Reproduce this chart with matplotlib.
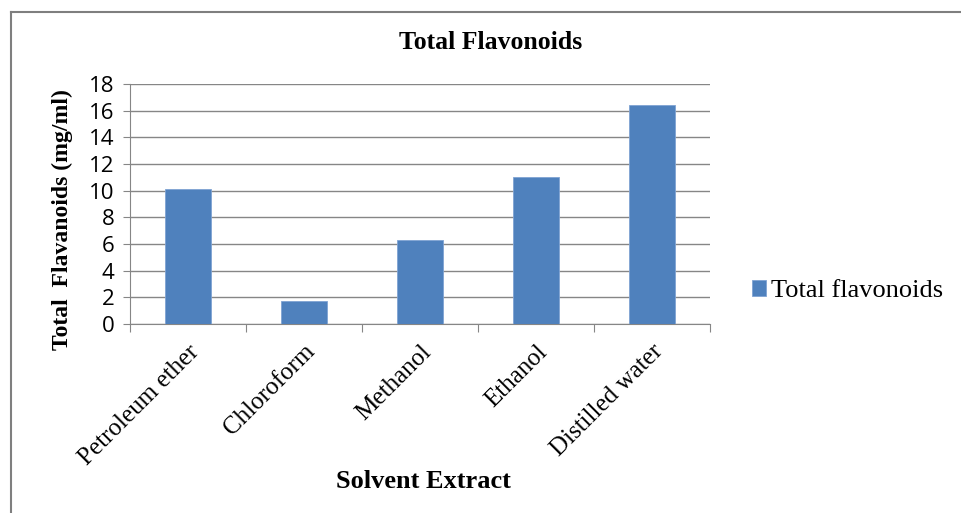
import matplotlib
matplotlib.use("Agg")
import matplotlib.pyplot as plt
from matplotlib.lines import Line2D
import numpy as np

categories = ["Petroleum ether", "Chloroform", "Methanol", "Ethanol", "Distilled water"]
values = [10.15, 1.7, 6.3, 11.0, 16.4]
yticks = [0, 2, 4, 6, 8, 10, 12, 14, 16, 18]
series_name = "Total flavonoids"

W, H = 961, 513
fig = plt.figure(figsize=(W/100, H/100), dpi=100)
ax = fig.add_axes([130/W, 1-324/H, 580/W, 240/H])

serif = "Liberation Serif"
sans = "Open Sans"
blue = "#4F81BD"
grid = "#868686"

x = np.arange(len(categories))
ax.bar(x, values, width=0.4, color=blue, edgecolor="#7FA3D3", linewidth=0.6,
       label=series_name, zorder=3)
ax.set_xlim(-0.5, len(categories)-0.5)
ax.set_ylim(0, 18)
ax.set_yticks(yticks)
ax.set_yticklabels([str(t) for t in yticks], fontfamily=sans, fontsize=16)
ax.yaxis.grid(True, color=grid, linewidth=1.0, zorder=0)
ax.set_axisbelow(True)
for s in ["top", "right"]:
    ax.spines[s].set_visible(False)
ax.spines["left"].set_color(grid)
ax.spines["bottom"].set_color(grid)
ax.tick_params(axis="y", length=5, color=grid, pad=6)
# category boundary ticks on x
ax.set_xticks(np.arange(-0.5, len(categories)), minor=False)
ax.set_xticklabels([])
ax.set_xticks(x, minor=True)
ax.set_xticklabels(categories, minor=True, rotation=45, ha="right",
                   rotation_mode="anchor", fontfamily=serif, fontsize=18)
ax.tick_params(axis="x", which="major", length=6, color=grid)
ax.tick_params(axis="x", which="minor", length=0, pad=12)

fig.text(491/W, 1-43/H, "Total Flavonoids", ha="center", va="center",
         fontfamily=serif, fontweight="bold", fontsize=18.5)
fig.text(62/W, 1-220/H, "Total  Flavanoids (mg/ml)", ha="center", va="center",
         rotation=90, fontfamily=serif, fontweight="bold", fontsize=17)
fig.text(423/W, 1-481/H, "Solvent Extract", ha="center", va="center",
         fontfamily=serif, fontweight="bold", fontsize=19)

leg = fig.legend(loc="center left", bbox_to_anchor=(741/W, 1-291/H), frameon=False,
                 prop={"family": serif, "size": 19}, handlelength=0.55, handleheight=0.55,
                 handletextpad=0.2, borderaxespad=0)

# outer frame
fig.add_artist(Line2D([11/W, 11/W], [0, 1-12/H], transform=fig.transFigure, color="#7F7F7F", lw=1.5))
fig.add_artist(Line2D([11/W, 1], [1-12/H, 1-12/H], transform=fig.transFigure, color="#7F7F7F", lw=1.5))

fig.savefig("out.png", dpi=100)
